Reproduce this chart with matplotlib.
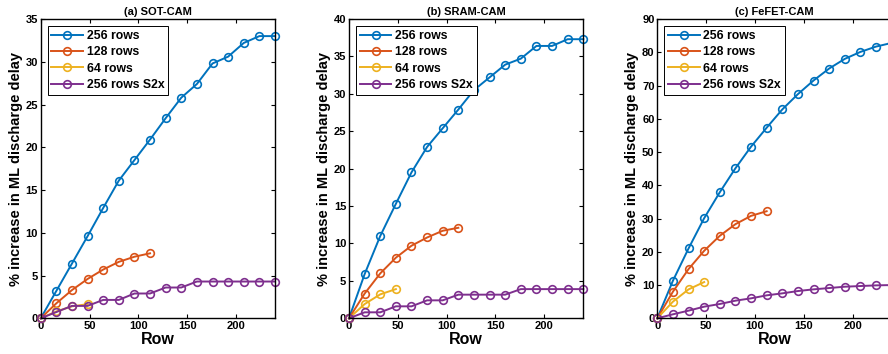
import numpy as np
import matplotlib
matplotlib.use('Agg')
import matplotlib.pyplot as plt

plt.rcParams['font.family'] = ['Liberation Sans', 'DejaVu Sans']
plt.rcParams['font.weight'] = 'bold'

# row positions (step of 16)
rows_256 = list(range(0, 241, 16))
rows_128 = list(range(0, 113, 16))
rows_64 = list(range(0, 49, 16))

series_labels = ['256 rows', '128 rows', '64 rows', '256 rows S2x']
colors = ['#0072BD', '#D95319', '#EDB120', '#7E2F8E']

# (a) SOT-CAM
sot_256 = [0, 3.2, 6.4, 9.6, 12.9, 16.1, 18.5, 20.9, 23.4, 25.8, 27.4, 29.8, 30.6, 32.2, 33.0, 33.0]
sot_128 = [0, 1.75, 3.3, 4.6, 5.7, 6.6, 7.2, 7.6]
sot_64 = [0, 0.8, 1.4, 1.65]
sot_s2x = [0, 0.73, 1.45, 1.45, 2.15, 2.15, 2.9, 2.9, 3.6, 3.6, 4.3, 4.3, 4.3, 4.3, 4.3, 4.3]

# (b) SRAM-CAM
sram_256 = [0, 5.9, 11.0, 15.3, 19.5, 22.9, 25.4, 27.9, 30.5, 32.2, 33.9, 34.7, 36.4, 36.4, 37.3, 37.3]
sram_128 = [0, 3.3, 6.0, 8.1, 9.7, 10.8, 11.7, 12.1]
sram_64 = [0, 1.9, 3.2, 3.9]
sram_s2x = [0, 0.8, 0.8, 1.6, 1.6, 2.4, 2.4, 3.16, 3.16, 3.16, 3.16, 3.9, 3.9, 3.9, 3.9, 3.9]

# (c) FeFET-CAM
fefet_256 = [0, 11.3, 21.0, 30.1, 37.9, 45.1, 51.6, 57.3, 62.8, 67.4, 71.5, 75.1, 78.0, 80.1, 81.7, 82.8]
fefet_128 = [0, 8.0, 14.8, 20.3, 24.8, 28.3, 30.8, 32.2]
fefet_64 = [0, 5.0, 8.7, 10.9]
fefet_s2x = [0, 1.2, 2.3, 3.5, 4.3, 5.3, 6.0, 6.9, 7.5, 8.2, 8.7, 9.1, 9.5, 9.7, 9.9, 10.0]

panels = [
    ('(a) SOT-CAM', [sot_256, sot_128, sot_64, sot_s2x], 35, 5),
    ('(b) SRAM-CAM', [sram_256, sram_128, sram_64, sram_s2x], 40, 5),
    ('(c) FeFET-CAM', [fefet_256, fefet_128, fefet_64, fefet_s2x], 90, 10),
]
xs = [rows_256, rows_128, rows_64, rows_256]

W, H = 888, 354
fig = plt.figure(figsize=(W / 100, H / 100), dpi=100)
lefts = [40.7, 349.0, 657.3]
top_px, bot_px, width_px = 19.0, 318.3, 234.3

for left, (title, ys, ymax, ystep) in zip(lefts, panels):
    ax = fig.add_axes([left / W, (H - bot_px) / H, width_px / W, (bot_px - top_px) / H])
    for x, y, c, lab in zip(xs, ys, colors, series_labels):
        ax.plot(x, y, '-o', color=c, lw=1.4, ms=5.5, mfc='none', mew=1.2,
                label=lab, clip_on=False)
    ax.set_xlim(0, 240)
    ax.set_ylim(0, ymax)
    ax.set_xticks([0, 50, 100, 150, 200])
    ax.set_yticks(np.arange(0, ymax + 0.1, ystep))
    ax.tick_params(direction='in', top=True, right=True, length=3, width=0.8,
                   labelsize=8, pad=2)
    for lbl in ax.get_xticklabels() + ax.get_yticklabels():
        lbl.set_fontweight('bold')
    for s in ax.spines.values():
        s.set_linewidth(1.0)
    ax.set_title(title, fontsize=8, fontweight='bold', pad=3)
    ax.set_xlabel('Row', fontsize=11.5, fontweight='bold', labelpad=1)
    ax.set_ylabel('% increase in ML discharge delay', fontsize=10.5, fontweight='bold', labelpad=2)
    leg = ax.legend(loc='upper left', bbox_to_anchor=(0.03, 0.975), fontsize=8.8,
                    fancybox=False, edgecolor='black', framealpha=1, numpoints=1,
                    handlelength=2.6, handletextpad=0.3, borderpad=0.3,
                    labelspacing=0.35, borderaxespad=0)
    leg.get_frame().set_linewidth(0.7)
    for t in leg.get_texts():
        t.set_fontweight('bold')

fig.savefig('out.png', dpi=100)
